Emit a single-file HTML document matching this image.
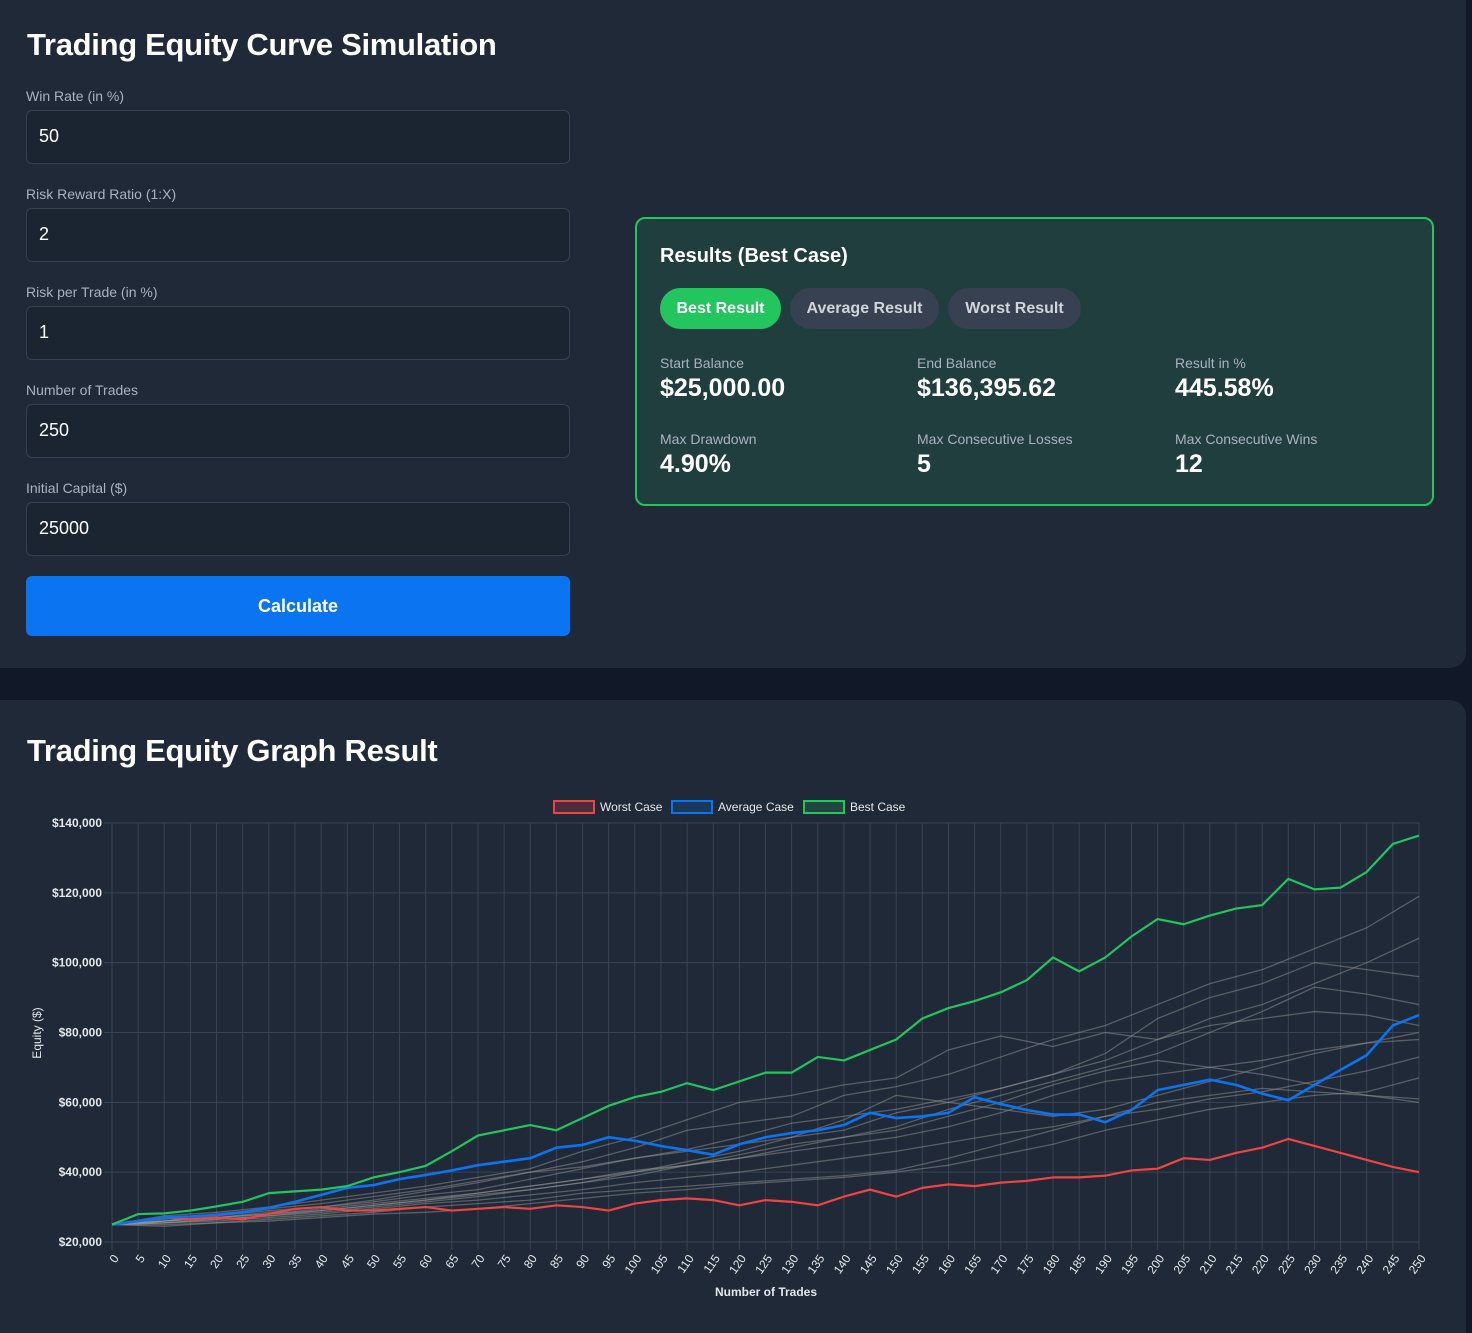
<!DOCTYPE html>
<html style="overflow:hidden;width:1472px;height:1333px"><head><meta charset="utf-8"><style>
*{box-sizing:border-box;margin:0;padding:0}
body{width:1472px;height:1333px;background:#111827;font-family:"Liberation Sans",sans-serif;color:#fff;overflow:hidden;position:relative}
.panel{position:absolute;background:#1f2937;border-radius:16px}
h1{position:absolute;font-size:31px;font-weight:bold;color:#fff;letter-spacing:-0.3px}
.lbl{position:absolute;left:26px;font-size:14px;color:#aab2bf}
.inp{position:absolute;left:26px;width:544px;height:54px;background:#1b2431;border:1px solid #374151;border-radius:6px;font-size:18px;color:#fff;padding:15px 12px}
.calc{position:absolute;left:26px;top:576px;width:544px;height:60px;background:#0b74f0;border-radius:6px;font-size:18px;font-weight:bold;text-align:center;line-height:60px}
.card{position:absolute;left:635px;top:217px;width:799px;height:289px;background:#213e3f;border:2px solid #22c55e;border-radius:10px}
.pill{position:absolute;top:69px;height:41px;border-radius:21px;background:#374151;color:#d1d5db;font-size:16px;font-weight:bold;text-align:center;line-height:41px}
.sl{position:absolute;font-size:14px;color:#aab2bf}
.sv{position:absolute;font-size:25px;font-weight:bold;color:#fff}
</style></head><body>
<div class="panel" style="left:-20px;top:-20px;width:1486px;height:688px"></div>
<h1 style="left:27px;top:27px">Trading Equity Curve Simulation</h1>
<div class="lbl" style="top:88px">Win Rate (in %)</div>
<div class="inp" style="top:110px">50</div>
<div class="lbl" style="top:186px">Risk Reward Ratio (1:X)</div>
<div class="inp" style="top:208px">2</div>
<div class="lbl" style="top:284px">Risk per Trade (in %)</div>
<div class="inp" style="top:306px">1</div>
<div class="lbl" style="top:382px">Number of Trades</div>
<div class="inp" style="top:404px">250</div>
<div class="lbl" style="top:480px">Initial Capital ($)</div>
<div class="inp" style="top:502px">25000</div>
<div class="calc">Calculate</div>

<div class="card">
 <div style="position:absolute;left:23px;top:26px;font-size:20px;font-weight:bold">Results (Best Case)</div>
 <div class="pill" style="left:23px;width:121px;background:#22c55e;color:#fff">Best Result</div>
 <div class="pill" style="left:153px;width:149px">Average Result</div>
 <div class="pill" style="left:311px;width:133px">Worst Result</div>
 <div class="sl" style="left:23px;top:136px">Start Balance</div>
 <div class="sv" style="left:23px;top:155px">$25,000.00</div>
 <div class="sl" style="left:280px;top:136px">End Balance</div>
 <div class="sv" style="left:280px;top:155px">$136,395.62</div>
 <div class="sl" style="left:538px;top:136px">Result in %</div>
 <div class="sv" style="left:538px;top:155px">445.58%</div>
 <div class="sl" style="left:23px;top:212px">Max Drawdown</div>
 <div class="sv" style="left:23px;top:231px">4.90%</div>
 <div class="sl" style="left:280px;top:212px">Max Consecutive Losses</div>
 <div class="sv" style="left:280px;top:231px">5</div>
 <div class="sl" style="left:538px;top:212px">Max Consecutive Wins</div>
 <div class="sv" style="left:538px;top:231px">12</div>
</div>

<div class="panel" style="left:-20px;top:700px;width:1486px;height:633px;border-bottom-left-radius:0;border-bottom-right-radius:0"></div>
<h1 style="left:27px;top:733px">Trading Equity Graph Result</h1>
<svg id="chart" width="1472" height="1333" style="position:absolute;left:0;top:0" font-family="Liberation Sans, sans-serif"></svg>
<script>
const xTicks=[];for(let i=0;i<=250;i+=5)xTicks.push(i);
const yTicks=[20000,40000,60000,80000,100000,120000,140000];
const yTickLabels=["$20,000","$40,000","$60,000","$80,000","$100,000","$120,000","$140,000"];
const trades5=[0,5,10,15,20,25,30,35,40,45,50,55,60,65,70,75,80,85,90,95,100,105,110,115,120,125,130,135,140,145,150,155,160,165,170,175,180,185,190,195,200,205,210,215,220,225,230,235,240,245,250];
const bestCase=[25000,28000,28200,29000,30200,31500,34000,34500,35000,36000,38500,40000,41800,46000,50500,52000,53500,52000,55500,59000,61500,63000,65500,63500,66000,68500,68500,73000,72000,75000,78000,84000,87000,89000,91500,95000,101500,97500,101500,107500,112500,111000,113500,115500,116500,124000,121000,121500,126000,134000,136400];
const averageCase=[25000,26000,27000,27300,27800,28500,29800,31500,33500,35500,36300,38000,39200,40500,42000,43000,44000,47000,47800,50000,49000,47500,46300,45000,48000,50000,51200,52000,53500,57000,55500,56000,57000,61500,59500,57800,56500,56500,54300,57800,63500,65000,66500,65000,62500,60600,65000,69300,73500,82000,85000];
const worstCase=[25000,26000,27000,26500,27000,26500,28000,29500,30000,29000,29000,29500,30000,29000,29500,30000,29500,30500,30000,29000,31000,32000,32500,32000,30500,32000,31500,30500,33000,35000,33000,35500,36500,36000,37000,37500,38500,38500,39000,40500,41000,44000,43500,45500,47000,49500,47500,45500,43500,41500,40000];
const trades10=[0,10,20,30,40,50,60,70,80,90,100,110,120,130,140,150,160,170,180,190,200,210,220,230,240,250];
const sim1=[25000,26000,27500,29000,30000,32000,34500,37000,40000,43000,47000,52000,54000,56000,62000,64500,68000,73000,78000,82000,88000,94000,98000,104000,110000,119000];
const sim2=[25000,26500,28000,29500,31000,33000,35000,37500,40000,41500,44000,46500,50000,54000,56000,58000,61000,64000,68000,72000,78000,84000,88000,94000,100000,107000];
const sim3=[25000,26000,27000,28500,30000,31500,33500,35000,38000,41000,44000,46000,48000,50000,52000,57000,60000,64000,68000,74000,84000,90000,94000,100000,98000,96000];
const sim4=[25000,27500,28500,30000,32000,34000,36000,38500,41000,46000,50000,55000,60000,62000,65000,67000,75000,79000,76000,80000,78000,82000,84000,86000,85000,82000];
const sim5=[25000,26000,27000,28000,29500,31000,32500,34000,36000,38000,40000,42000,45000,48000,50000,53000,58000,62000,66000,70000,74000,80000,86000,93000,91000,88000];
const sim6=[25000,25500,26500,27500,29000,30500,32000,33500,35000,37000,39000,42000,44000,47000,50000,52000,56000,60000,65000,69000,72000,70000,68000,65000,62000,60000];
const sim7=[25000,25500,26000,27000,28000,29500,31000,32000,33500,35000,37000,38500,40000,42000,44000,46000,48500,51000,53000,56000,58000,61000,63000,66000,69000,73000];
const sim8=[25000,25000,25500,26000,27000,28000,28500,29500,31000,32500,34000,35000,36500,37500,38500,40000,42000,45000,48000,52000,55000,58000,60000,62000,63000,67000];
const sim9=[25000,26000,27000,28000,29000,30500,32000,34000,36000,38000,40500,42000,44000,46000,48000,50000,53000,57000,62000,66000,68000,70000,72000,75000,77000,78000];
const sim10=[25000,25500,26500,27500,28500,30000,31500,33000,35000,37000,40000,43000,46000,50000,55000,62000,60000,58000,56000,58000,62000,66000,70000,74000,77000,80000];
const sim11=[25000,24500,25500,26500,27500,28500,30000,31000,32000,34000,35000,36000,37000,38000,39000,40500,44000,48000,52000,56000,60000,62000,64000,63000,62000,61000];
const sims=[sim1,sim2,sim3,sim4,sim5,sim6,sim7,sim8,sim9,sim10,sim11];

const X0=112,X1=1419,Y0=1242,Y1=823,XMAX=250,YMIN=20000,YMAX=140000;
const xs=t=>X0+(X1-X0)*t/XMAX;
const ys=v=>Y0-(Y0-Y1)*(v-YMIN)/(YMAX-YMIN);
const svg=document.getElementById('chart');
const NS='http://www.w3.org/2000/svg';
function mk(tag,attrs){const e=document.createElementNS(NS,tag);for(const k in attrs)e.setAttribute(k,attrs[k]);svg.appendChild(e);return e;}
xTicks.forEach(t=>{
 const l=mk('line',{x1:xs(t),x2:xs(t),y1:Y1,y2:Y0+8,stroke:'#3a4352','stroke-width':1});
 
 
 const x=xs(t),y=Y0+14;
 const tx=mk('text',{x:x+4,y:y+4,fill:'#e5e7eb','font-size':12,'text-anchor':'end',transform:`rotate(-55 ${x+4} ${y})`});
 tx.textContent=t;
 
 
});
yTicks.forEach((v,i)=>{
 const l=mk('line',{x1:X0-8,x2:X1,y1:ys(v),y2:ys(v),stroke:'#3a4352','stroke-width':1});
 
 
 const tx=mk('text',{x:102,y:ys(v)+4,fill:'#e5e7eb','font-size':12,'font-weight':'bold','text-anchor':'end'});
 tx.textContent=yTickLabels[i];
 
 
});
function line(ts,vals,color,w){return mk('polyline',{points:ts.map((t,i)=>xs(t)+','+ys(vals[i])).join(' '),fill:'none',stroke:color,'stroke-width':w,'stroke-linejoin':'round'});}
sims.forEach(s=>{const p=line(trades10,s,'rgba(150,150,150,0.5)',1.3);
 
 });
const pw=line(trades5,worstCase,'#ef4444',2.2);


const pa=line(trades5,averageCase,'#0b74f0',2.6);


const pb=line(trades5,bestCase,'#22c55e',2.2);


const legend=[['Worst Case','#ef4444','rgba(239,68,68,0.2)',554],['Average Case','#0b74f0','rgba(11,116,240,0.2)',672],['Best Case','#22c55e','rgba(34,197,94,0.2)',804]];
legend.forEach(([n,c,f,x])=>{
 const r=mk('rect',{x:x,y:801,width:40,height:12,fill:f,stroke:c,'stroke-width':2});
 
 
 const t=mk('text',{x:x+46,y:811,fill:'#e5e7eb','font-size':12});
 t.textContent=n;
 
 
});
const xt=mk('text',{x:766,y:1296,fill:'#e5e7eb','font-size':12,'font-weight':'bold','text-anchor':'middle'});
xt.textContent='Number of Trades';


const yt=mk('text',{x:41,y:1033,fill:'#e5e7eb','font-size':12,'text-anchor':'middle',transform:'rotate(-90 41 1033)'});
yt.textContent='Equity ($)';


</script>
</body></html>
